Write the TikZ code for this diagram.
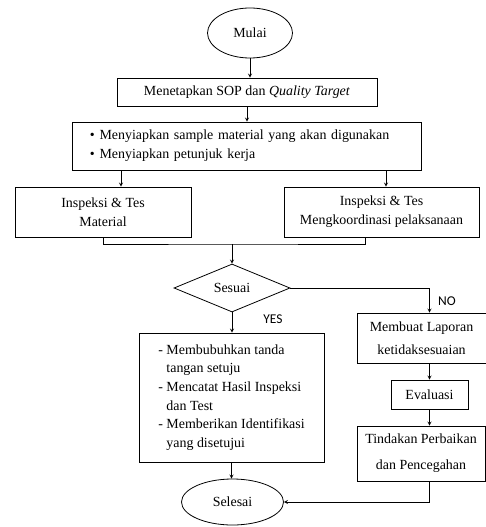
\documentclass[tikz,border=0pt]{standalone}
\usepackage{fontspec}
\setmainfont{Liberation Serif}
\newfontfamily\labelfont{Carlito}
\usetikzlibrary{shapes.geometric}

\newcommand{\dashitem}{-\ }
\newcommand{\dashgap}{\phantom{-\ }}

\begin{document}
\begin{tikzpicture}[x=1bp, y=-1bp, >=stealth, line width=0.8pt]
\useasboundingbox (0,0) rectangle (486,527);

\begin{scope}[every node/.style={font=\labelfont\fontsize{13.5}{16}\selectfont}]
    \node (yes) at (273,319) {YES};
    \node (no) at (447,301) {NO};
\end{scope}

\begin{scope}[every node/.style={ellipse, draw, inner sep=0pt, font=\fontsize{14}{18}\selectfont}]
    \node[minimum width=85bp, minimum height=50bp] (mulai) at (250,33) {Mulai};
    \node[minimum width=102bp, minimum height=46bp] (selesai) at (232.5,502) {Selesai};
\end{scope}

\begin{scope}[every node/.style={diamond, draw, inner sep=0pt, aspect=2.4, font=\fontsize{14}{18}\selectfont}]
    \node[minimum width=116bp, minimum height=48bp] (sesuai) at (232,288) {Sesuai};
\end{scope}

\begin{scope}[every node/.style={rectangle, draw, inner sep=0pt, align=center, font=\fontsize{14}{19}\selectfont}]
    \node[minimum width=260bp, minimum height=28bp] (sop) at (247,92) {Menetapkan SOP dan \textit{Quality Target}};
    \node[minimum width=349bp, minimum height=48bp, text width=313bp, align=left] (siap) at (246.5,146)
        {\textbullet\ Menyiapkan sample material yang akan digunakan\\
         \textbullet\ Menyiapkan petunjuk kerja};
    \node[minimum width=176bp, minimum height=50bp] (insA) at (103,212) {Inspeksi \& Tes\\Material};
    \node[minimum width=195bp, minimum height=50bp] (insB) at (381.5,212) {Inspeksi \& Tes\\Mengkoordinasi pelaksanaan};
    \node[minimum width=185bp, minimum height=129bp, align=left, font=\fontsize{14}{18.8}\selectfont] (ident) at (231.5,397.5)
        {\dashitem Membubuhkan tanda\\
         \dashgap tangan setuju\\
         \dashitem Mencatat Hasil Inspeksi\\
         \dashgap dan Test\\
         \dashitem Memberikan Identifikasi\\
         \dashgap yang disetujui};
    \node[minimum width=129bp, minimum height=50bp, font=\fontsize{14}{23}\selectfont] (lapor) at (421.5,338) {Membuat Laporan\\ketidaksesuaian};
    \node[minimum width=77bp, minimum height=29bp] (eval) at (429.5,394.5) {Evaluasi};
    \node[minimum width=128bp, minimum height=55bp, font=\fontsize{14}{26}\selectfont] (tindak) at (421,453.5) {Tindakan Perbaikan\\dan Pencegahan};
\end{scope}

\begin{scope}[]
    \coordinate (inA) at ([xshift=18bp]insA.north);
    \coordinate (inB) at ([xshift=4.5bp]insB.north);
    \coordinate (outB) at ([xshift=-16.5bp]insB.south);
    \coordinate (join) at (232,244);
    \draw [->] (mulai.south) -- (mulai.south |- sop.north);
    \draw [->] (sop.south) -- (sop.south |- siap.north);
    \draw [->] (siap.south -| inA) -- (inA);
    \draw [->] (siap.south -| inB) -- (inB);
    \draw (insA.south) |- (join) -| (outB);
    \draw [->] (join) -- (sesuai.north);
    \draw [->] (sesuai.east) -| (eval.north |- lapor.north);
    \draw [->] (sesuai.south) -- (sesuai.south |- ident.north);
    \draw [->] (eval.north |- lapor.south) -- (eval.north);
    \draw [->] (eval.south) -- (eval.south |- tindak.north);
    \draw [->] (ident.south) -- (ident.south |- selesai.north);
    \draw [->] (eval.south |- tindak.south) |- (selesai.east);
\end{scope}
\end{tikzpicture}
\end{document}
